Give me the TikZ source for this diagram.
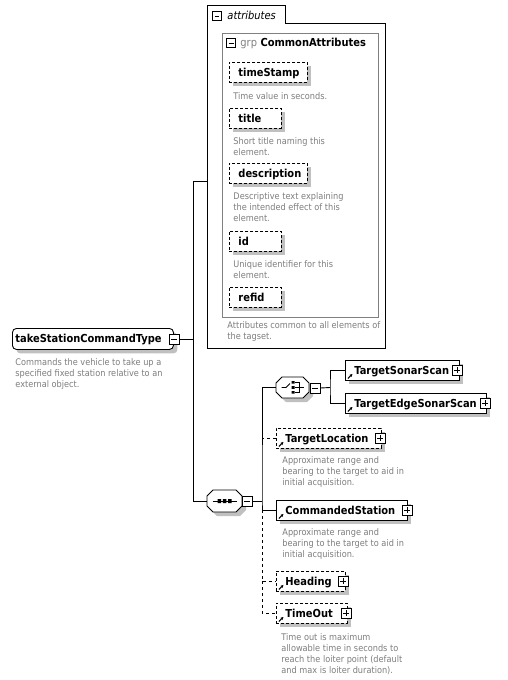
\documentclass[tikz,border=0pt]{standalone}
\usepackage{fontspec}
\setmainfont{DejaVu Sans Condensed}
\usetikzlibrary{shadows,arrows.meta}

\definecolor{descgray}{RGB}{125,125,125}
\definecolor{shadowgray}{RGB}{192,192,192}
\definecolor{grpgray}{RGB}{128,128,128}

\newcommand{\lblfont}{\fontsize{11}{13}\selectfont\bfseries}
\newcommand{\descfont}{\fontsize{9.1}{11}\selectfont}

% octagon of a compositor: centre, half width, half height
\newcommand{\compshape}[3]{%
  \draw[fill=white, shade box, shift={(#1)}] (-#2+6,-#3) -- (#2-6,-#3) -- (#2,-#3+6) -- (#2,#3-6)
    -- (#2-6,#3) -- (-#2+6,#3) -- (-#2,#3-6) -- (-#2,-#3+6) -- cycle;}

\tikzset{
  shade box/.style={drop shadow={shadow xshift=4pt, shadow yshift=-4pt, fill=shadowgray, opacity=1}},
  namebox/.style={draw, fill=white, shade box, anchor=north west, minimum height=20pt,
    inner xsep=0pt, inner ysep=0pt, align=left, text height=8pt, text depth=0pt, font=\lblfont},
  attrbox/.style={namebox, dash pattern=on 3pt off 2pt, text width=#1,
    execute at begin node={\hspace*{9pt}}},
  elembox/.style={namebox, text width=#1, execute at begin node={\hspace*{9pt}},
    path picture={\draw[solid, line width=1pt, -{Stealth[length=3pt,width=3pt]}]
      ([shift={(2.5pt,2pt)}]path picture bounding box.south west) -- ++(4.5pt,4.5pt);}},
  optbox/.style={elembox=#1, dash pattern=on 3pt off 2pt},
  ctbox/.style={namebox, rounded corners=4pt, minimum height=21pt, text width=#1,
    execute at begin node={\hspace*{3pt}}},
  pmbox/.style={draw, solid, fill=white, inner sep=0pt, minimum size=#1},
  plusbox/.style={pmbox=10pt, path picture={\draw
      ([xshift=2pt]path picture bounding box.west) -- ([xshift=-2pt]path picture bounding box.east)
      ([yshift=-2pt]path picture bounding box.north) -- ([yshift=2pt]path picture bounding box.south);}},
  minusbox/.style={pmbox=#1, path picture={\draw
      ([xshift=2pt]path picture bounding box.west) -- ([xshift=-2pt]path picture bounding box.east);}},
  minusbox/.default=10pt,
  compbox/.style={inner sep=0pt, minimum width=#1, minimum height=21pt},
  desc/.style={anchor=north west, inner sep=0pt, align=left, font=\descfont, text=descgray},
  optline/.style={dash pattern=on 3pt off 3pt}
}

\begin{document}
\begin{tikzpicture}[x=1pt, y=-1pt, line width=0.9pt]
    \useasboundingbox (0,0) rectangle (508,680);

    % attributes
    \node[anchor=north west, minimum width=178, minimum height=325, inner sep=0pt] (attrs) at (207,23) {};
    \node[anchor=south west, minimum width=78, minimum height=17, inner sep=0pt] (attrtab) at (207,23) {};
    \draw (attrs.south west) -- (attrtab.north west) -- (attrtab.north east) -- (attrtab.south east)
        -- (attrs.north east) -- (attrs.south east) -- cycle;
    \node[minusbox=8.5pt] (attr-pm) at (217,16) {};
    \node[anchor=west, inner sep=0pt, font=\fontsize{11}{13}\selectfont\itshape] (attrlbl) at (227,15.5) {attributes};

    % grp
    \node[draw=grpgray, anchor=north west, minimum width=156, minimum height=284, inner sep=0pt] (grp) at (222,33) {};
    \node[minusbox=9pt] (grp-pm) at (231,43) {};
    \node[anchor=west, inner sep=0pt, font=\lblfont] (grplbl) at (240,43.5) {\textcolor{grpgray}{\mdseries grp} CommonAttributes};

    \node[attrbox=78pt] (ts) at (229,62) {timeStamp};
    \node[desc] (ts-d) at (233,92) {Time value in seconds.};
    \node[attrbox=52pt] (ttl) at (229,108) {title};
    \node[desc] (ttl-d) at (233,137) {Short title naming this\\element.};
    \node[attrbox=78pt] (dsc) at (229,163) {description};
    \node[desc] (dsc-d) at (233,192) {Descriptive text explaining\\the intended effect of this\\element.};
    \node[attrbox=52pt] (idn) at (229,231) {id};
    \node[desc] (idn-d) at (233,260) {Unique identifier for this\\element.};
    \node[attrbox=52pt] (rfd) at (229,287) {refid};
    \node[desc] (grp-d) at (227,321) {Attributes common to all elements of\\the tagset.};

    % complex type
    \node[ctbox=161pt] (tsct) at (12,328) {takeStationCommandType};
    \node[minusbox] (tsct-pm) at (174,339) {};
    \node[desc] (tsct-d) at (15,358) {Commands the vehicle to take up a\\specified fixed station relative to an\\external object.};

    % sequence
    \compshape{224.5,501}{17.5}{11}
    \node[compbox=35pt, minimum height=22pt] (seq) at (224.5,501) {};
    \begin{scope}[shift={(seq.center)}]
      \draw (-12pt,0pt) -- (12pt,0pt);
      \fill (-7pt,-2pt) rectangle (-3.5pt,2pt) (-1.75pt,-2pt) rectangle (1.75pt,2pt) (3.5pt,-2pt) rectangle (7pt,2pt);
    \end{scope}
    \node[minusbox] (seq-pm) at (247,501) {};

    % choice
    \compshape{292.5,387.5}{16.5}{10.5}
    \node[compbox=33pt] (cho) at (292.5,387.5) {};
    \begin{scope}[shift={(cho.center)}]
      \draw (-11pt,0pt) -- (-6.5pt,0pt) -- (-2.5pt,4pt);
      \fill (-1pt,4pt) rectangle (2pt,6.5pt) (-1pt,-1.3pt) rectangle (2pt,1.3pt) (-1pt,-6pt) rectangle (2pt,-3.5pt);
      \draw (2pt,5pt) -- (7pt,5pt) -- (7pt,-4.5pt) -- (2pt,-4.5pt) (2pt,0pt) -- (11pt,0pt);
    \end{scope}
    \node[minusbox] (cho-pm) at (315,388) {};

    \node[elembox=114pt] (tss) at (345,360) {TargetSonarScan};
    \node[plusbox] (tss-pm) at (457,370) {};
    \node[elembox=141pt] (tess) at (345,393) {TargetEdgeSonarScan};
    \node[plusbox] (tess-pm) at (485,403) {};

    \node[optbox=105pt] (tloc) at (276,428) {TargetLocation};
    \node[plusbox] (tloc-pm) at (380,438) {};
    \node[desc] (tloc-d) at (282,456) {Approximate range and\\bearing to the target to aid in\\initial acquisition.};

    \node[elembox=131pt] (cst) at (276,500) {CommandedStation};
    \node[plusbox] (cst-pm) at (407,510) {};
    \node[desc] (cst-d) at (282,528) {Approximate range and\\bearing to the target to aid in\\initial acquisition.};

    \node[optbox=69pt] (head) at (276,571) {Heading};
    \node[plusbox] (head-pm) at (343,581) {};
    \node[optbox=71pt] (tout) at (276,603) {TimeOut};
    \node[plusbox] (tout-pm) at (346,613) {};
    \node[desc] (tout-d) at (281,633) {Time out is maximum\\allowable time in seconds to\\reach the loiter point (default\\and max is loiter duration).};

    % connectors
    \coordinate (jt) at (193,181);
    \draw (tsct-pm.east) -| (jt) -- (jt -| attrs.west);
    \draw (tsct-pm.east -| jt) |- (seq.west);

    \coordinate (sb) at (262,501);
    \draw (seq-pm.east) -- (sb);
    \draw (cho.west) -| (sb) |- (cst.west);
    \draw[optline] (tloc.west) -- (tloc.west -| sb);
    \draw[optline] (cst.west -| sb) |- (head.west);
    \draw[optline] (head.west -| sb) |- (tout.west);

    \coordinate (cb) at (330,387.5);
    \draw (cho-pm.east) -- (cb);
    \draw (tss.west) -| (cb) |- (tess.west);

\end{tikzpicture}
\end{document}
